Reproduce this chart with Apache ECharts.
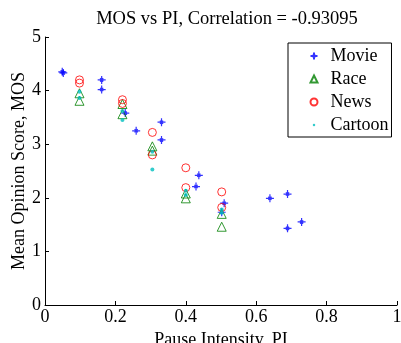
<!DOCTYPE html>
<html>
<head>
<meta charset="utf-8">
<script src="https://cdn.jsdelivr.net/npm/echarts@6/dist/echarts.min.js"></script>
<style>
  html, body { margin: 0; padding: 0; background: #fff; }
  #chart { width: 401px; height: 343px; }
</style>
</head>
<body>
<div id="chart"></div>
<script>
  // values: [PI, MOS]
  const movie = [
    [0.049, 4.35], [0.052, 4.33], [0.161, 4.20], [0.161, 4.02], [0.228, 3.58],
    [0.259, 3.25], [0.331, 3.41], [0.331, 3.08], [0.437, 2.42], [0.429, 2.21],
    [0.509, 1.90], [0.502, 1.73], [0.639, 1.99], [0.689, 2.07], [0.689, 1.43],
    [0.729, 1.55]
  ];
  const race = [
    [0.098, 3.95], [0.098, 3.81], [0.22, 3.75], [0.22, 3.56], [0.305, 2.96],
    [0.305, 2.88], [0.40, 2.08], [0.40, 1.99], [0.502, 1.70], [0.502, 1.46]
  ];
  const news = [
    [0.098, 4.20], [0.098, 4.14], [0.22, 3.83], [0.22, 3.76], [0.305, 3.22],
    [0.305, 2.80], [0.40, 2.56], [0.40, 2.19], [0.502, 2.11], [0.502, 1.82]
  ];
  const cartoon = [
    [0.098, 3.98], [0.098, 3.86], [0.22, 3.62], [0.22, 3.45], [0.305, 2.86],
    [0.305, 2.53], [0.40, 2.13], [0.40, 2.05], [0.502, 1.78], [0.502, 1.72]
  ];
  const xTicks = [0, 0.2, 0.4, 0.6, 0.8, 1];
  const yTicks = [0, 1, 2, 3, 4, 5];

  const serif = 'Liberation Serif';
  const asterisk = 'path://M0,-5L0,5M-5,0L5,0M-2,-2L2,2M-2,2L2,-2';
  // small dot inside a bigger empty box, so the legend icon stays tiny
  const dotIcon = 'path://M-5,-5M5,5M0,-1.8A1.8,1.8,0,1,1,0,1.8A1.8,1.8,0,1,1,0,-1.8Z';

  const chart = echarts.init(document.getElementById('chart'));
  chart.setOption({
    animation: false,
    backgroundColor: '#fff',
    title: {
      text: 'MOS vs PI, Correlation = -0.93095',
      left: 222,
      textAlign: 'center',
      top: 5,
      textStyle: { fontFamily: serif, fontSize: 18.5, fontWeight: 'normal', color: '#000' }
    },
    grid: { left: 45, right: 4, top: 37, bottom: 38, outerBoundsMode: 'none' },
    legend: {
      orient: 'vertical',
      left: 288,
      top: 43,
      padding: [4, 3, 3, 20],
      itemGap: 5,
      itemWidth: 7,
      itemHeight: 7,
      borderColor: '#000',
      borderWidth: 1,
      backgroundColor: '#fff',
      textStyle: { fontFamily: serif, fontSize: 18, color: '#000', padding: [0, 0, 0, 8] },
      data: [
        { name: 'Movie' },
        { name: 'Race' },
        { name: 'News' },
        { name: 'Cartoon', icon: dotIcon }
      ]
    },
    xAxis: {
      type: 'value',
      min: 0, max: 1, interval: 0.2,
      name: 'Pause Intensity, PI',
      nameLocation: 'middle',
      nameGap: 22,
      nameTextStyle: { fontFamily: serif, fontSize: 18, color: '#000' },
      axisLine: { lineStyle: { color: '#000' } },
      axisTick: { inside: true, length: 4, lineStyle: { color: '#000' } },
      axisLabel: {
        fontFamily: serif, fontSize: 18, color: '#000', margin: 3,
        formatter: v => xTicks.includes(v) ? String(v) : ''
      },
      splitLine: { show: false }
    },
    yAxis: {
      type: 'value',
      min: 0, max: 5, interval: 1,
      name: 'Mean Opinion Score, MOS',
      nameLocation: 'middle',
      nameGap: 17,
      nameMoveOverlap: false,
      nameTextStyle: { fontFamily: serif, fontSize: 18, color: '#000' },
      axisLine: { show: true, lineStyle: { color: '#000' } },
      axisTick: { show: true, inside: true, length: 4, lineStyle: { color: '#000' } },
      axisLabel: {
        fontFamily: serif, fontSize: 18, color: '#000', margin: 4,
        formatter: v => yTicks.includes(v) ? String(v) : ''
      },
      splitLine: { show: false }
    },
    series: [
      {
        name: 'Movie', type: 'scatter', data: movie,
        symbol: asterisk, symbolSize: 8,
        itemStyle: { color: 'none', borderColor: '#0000ff', borderWidth: 1.2 }
      },
      {
        name: 'Race', type: 'scatter', data: race,
        symbol: 'triangle', symbolSize: 9,
        itemStyle: { color: 'rgba(0,0,0,0)', borderColor: '#008000', borderWidth: 1 }
      },
      {
        name: 'News', type: 'scatter', data: news,
        symbol: 'circle', symbolSize: 8,
        itemStyle: { color: 'rgba(0,0,0,0)', borderColor: '#ff0000', borderWidth: 1 }
      },
      {
        name: 'Cartoon', type: 'scatter', data: cartoon,
        symbol: 'circle', symbolSize: 4,
        itemStyle: { color: '#00bfbf' }
      }
    ]
  });
</script>
</body>
</html>
